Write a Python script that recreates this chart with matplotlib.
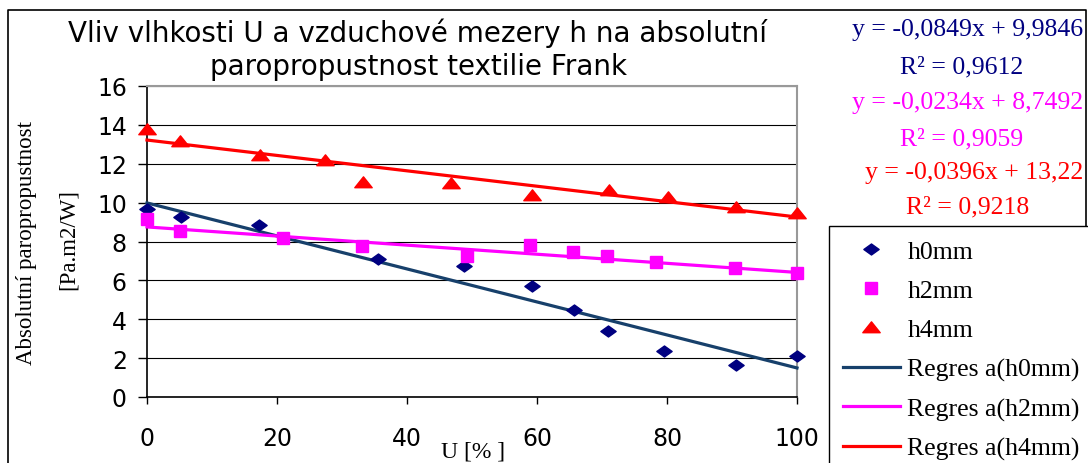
import numpy as np
import matplotlib
matplotlib.use("Agg")
import matplotlib.pyplot as plt
from matplotlib.lines import Line2D
from matplotlib.path import Path

u_h0 = [0, 5.2, 17.3, 35.6, 48.7, 59.2, 65.7, 70.9, 79.5, 90.6, 100]
p_h0 = [9.67, 9.24, 8.87, 7.10, 6.72, 5.69, 4.47, 3.41, 2.38, 1.66, 2.12]
u_h2 = [0, 5.1, 20.9, 33.1, 49.3, 58.9, 65.6, 70.7, 78.3, 90.5, 100]
p_h2 = [9.16, 8.54, 8.20, 7.78, 7.27, 7.84, 7.48, 7.24, 6.96, 6.62, 6.38]
u_h4 = [0, 5.1, 17.4, 27.4, 33.2, 46.7, 59.2, 71.0, 80.2, 90.6, 100]
p_h4 = [13.79, 13.18, 12.45, 12.21, 11.07, 10.99, 10.39, 10.65, 10.27, 9.79, 9.45]

# trend lines as printed on the chart
slopes = [-0.0849, -0.0234, -0.0396]
intercepts = [9.9846, 8.7492, 13.22]
eq_texts = ["y = -0,0849x + 9,9846", "y = -0,0234x + 8,7492", "y = -0,0396x + 13,22"]
r2_texts = ["R² = 0,9612", "R² = 0,9059", "R² = 0,9218"]
names = ["h0mm", "h2mm", "h4mm"]

W, H = 1088, 464
fig = plt.figure(figsize=(W / 100, H / 100), dpi=100)
ax = fig.add_axes([147 / W, 1 - 398 / H, 650 / W, 311 / H])

serif = "Liberation Serif"
sans = "DejaVu Sans"

wide_diamond = Path([(-1, 0), (0, 0.72), (1, 0), (0, -0.72), (-1, 0)],
                    [Path.MOVETO, Path.LINETO, Path.LINETO, Path.LINETO, Path.CLOSEPOLY])
wide_tri = Path([(-1, -0.6), (0, 0.65), (1, -0.6), (-1, -0.6)],
                [Path.MOVETO, Path.LINETO, Path.LINETO, Path.CLOSEPOLY])

mk_colors = ["#000080", "#FF00FF", "#FF0000"]
ln_colors = ["#17406B", "#FF00FF", "#FF0000"]
markers = [wide_diamond, "s", wide_tri]
msizes = [11, 8.5, 12.5]

xs = [u_h0, u_h2, u_h4]
ys = [p_h0, p_h2, p_h4]

handles = []
for i in range(3):
    h, = ax.plot(xs[i], ys[i], ls="none", marker=markers[i], ms=msizes[i],
                 color=mk_colors[i], mec=mk_colors[i], zorder=4, clip_on=False)
    handles.append(h)
line_handles = []
xx = np.array([0, 100])
for i in range(3):
    l, = ax.plot(xx, slopes[i] * xx + intercepts[i], color=ln_colors[i], lw=2.3,
                 zorder=3, clip_on=False)
    line_handles.append(l)

ax.set_xlim(0, 100)
ax.set_ylim(0, 16)
ax.set_xticks(range(0, 101, 20))
ax.set_yticks(range(0, 17, 2))
ax.grid(axis="y", color="black", lw=0.8)
ax.set_axisbelow(True)
for s in ["top", "right"]:
    ax.spines[s].set_color("#999999")
    ax.spines[s].set_linewidth(1.5)
for s in ["left", "bottom"]:
    ax.spines[s].set_color("black")
    ax.spines[s].set_linewidth(1.2)
ax.tick_params(axis="y", length=6.5, width=1, pad=8, labelsize=17)
ax.tick_params(axis="x", length=5, width=1, pad=16, labelsize=17)
for t in ax.get_xticklabels() + ax.get_yticklabels():
    t.set_fontfamily(sans)

fig.text(418 / W, 1 - 33 / H, "Vliv vlhkosti U a vzduchové mezery h na absolutní",
         ha="center", va="center", fontsize=20, family=sans)
fig.text(418 / W, 1 - 67 / H, "paropropustnost textilie Frank",
         ha="center", va="center", fontsize=20, family=sans)

fig.text(27 / W, 1 - 243 / H, "Absolutní paropropustnost", rotation=90,
         ha="center", va="center", fontsize=16.5, family=serif)
fig.text(68 / W, 1 - 240 / H, "[Pa.m2/W]", rotation=90,
         ha="center", va="center", fontsize=16.5, family=serif)
fig.text(473 / W, 1 - 452 / H, "U [% ]", ha="center", va="center",
         fontsize=17, family=serif)

eq_y = [30, 103, 173]
r2_y = [67, 139, 207]
r2_x = [962, 962, 968]
for i in range(3):
    fig.text(1083 / W, 1 - eq_y[i] / H, eq_texts[i], ha="right", va="center",
             fontsize=18.5, family=serif, color=mk_colors[i])
    fig.text(r2_x[i] / W, 1 - r2_y[i] / H, r2_texts[i], ha="center", va="center",
             fontsize=18.5, family=serif, color=mk_colors[i])

labels = names + ["Regres a(" + n + ")" for n in names]
leg = fig.legend(handles + line_handles, labels, loc="upper left",
                 bbox_to_anchor=(829 / W, 1 - 227 / H), prop={"family": serif, "size": 18.5},
                 frameon=True, fancybox=False, edgecolor="black", framealpha=1,
                 handlelength=2.2, handletextpad=0.3, labelspacing=0.63,
                 borderpad=0.55, borderaxespad=0)
leg.get_frame().set_linewidth(1)

# outer chart border (bottom edge is cut off in the original)
fig.add_artist(Line2D([8 / W, 8 / W, 1086 / W, 1086 / W], [-0.1, 1 - 11 / H, 1 - 11 / H, -0.1],
                      transform=fig.transFigure, color="black", lw=1.2))

fig.savefig("out.png", dpi=100)
